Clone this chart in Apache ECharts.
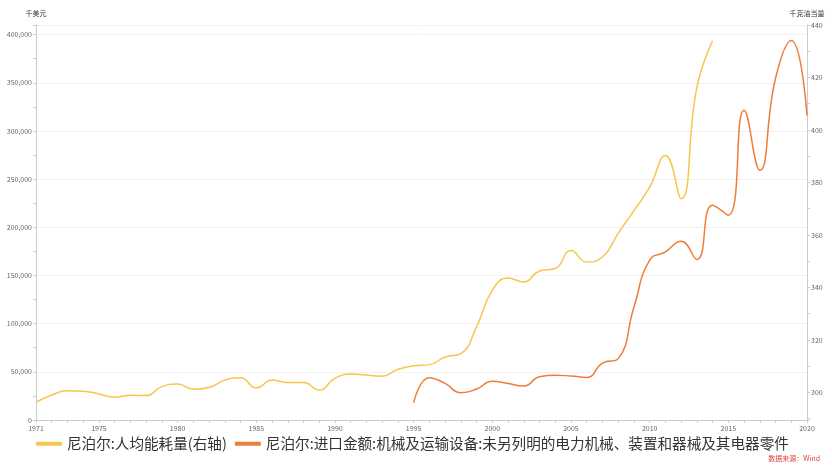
<!DOCTYPE html>
<html>
<head>
<meta charset="utf-8">
<script src="https://cdn.jsdelivr.net/npm/echarts@6/dist/echarts.min.js"></script>
<style>
  html, body { margin: 0; padding: 0; background: #fff; }
  #chart { width: 832px; height: 466px; }
</style>
</head>
<body>
<div id="chart"></div>
<script>
// 人均能耗量 (右轴, 千克油当量) 1971-2014
const energyYears = [1971, 1972, 1973, 1974, 1975, 1976, 1977, 1978, 1979, 1980,
  1981, 1982, 1983, 1984, 1985, 1986, 1987, 1988, 1989, 1990,
  1991, 1992, 1993, 1994, 1995, 1996, 1997, 1998, 1999, 2000,
  2001, 2002, 2003, 2004, 2005, 2006, 2007, 2008, 2009, 2010,
  2011, 2012, 2013, 2014];
const energyValues = [296.2, 299.0, 300.6, 300.5, 299.4, 298.2, 298.9, 298.8, 302.2, 303.2,
  301.2, 301.9, 304.7, 305.6, 301.7, 304.7, 303.8, 303.8, 300.9, 305.4,
  307.0, 306.6, 306.2, 308.8, 310.2, 310.6, 313.5, 314.8, 325.0, 338.9,
  343.6, 342.1, 346.3, 347.2, 354.1, 349.7, 351.6, 360.6, 369.3, 378.2,
  390.3, 373.8, 416.2, 434.0];

// 进口金额 (左轴, 千美元) 1995-2020
const importYears = [1995, 1996, 1997, 1998, 1999, 2000, 2001, 2002, 2003, 2004,
  2005, 2006, 2007, 2008, 2009, 2010, 2011, 2012, 2013, 2014,
  2015, 2016, 2017, 2018, 2019, 2020];
const importValues = [17900, 43900, 38000, 28300, 32100, 40200, 37800, 35200, 45000, 46500,
  45600, 44200, 59000, 63700, 117000, 165900, 174500, 185600, 166600, 223000,
  212600, 321500, 259200, 354700, 394000, 316000];

const seriesNames = ['尼泊尔:人均能耗量(右轴)', '尼泊尔:进口金额:机械及运输设备:未另列明的电力机械、装置和器械及其电器零件'];
const seriesColors = ['#F7C64C', '#EE7D3A'];

const chart = echarts.init(document.getElementById('chart'));
const font = 'Noto Sans CJK SC';

chart.setOption({
  animation: false,
  textStyle: { fontFamily: font },
  grid: { left: 36, right: 25, top: 25, bottom: 46, containLabel: false },
  legend: {
    data: seriesNames,
    left: 31,
    bottom: 10,
    width: 795,
    icon: 'roundRect',
    itemWidth: 26,
    itemHeight: 4,
    itemGap: 8,
    textStyle: { fontSize: 14.6, color: '#333', fontFamily: font }
  },
  graphic: [{
    type: 'text',
    right: 12,
    bottom: 4,
    style: { text: '数据来源：Wind', fill: '#E0403A', fontSize: 7, fontFamily: font }
  }],
  xAxis: {
    type: 'value',
    min: 1971,
    max: 2020,
    interval: 1,
    axisLine: { lineStyle: { color: '#ccc' } },
    axisTick: { lineStyle: { color: '#ccc' }, length: 3 },
    splitLine: { show: false },
    axisLabel: {
      fontSize: 7,
      color: '#666',
      margin: 5,
      formatter: v => (v % 5 === 0 || v === 1971 || v === 2020) ? String(v) : ''
    }
  },
  yAxis: [{
    type: 'value',
    name: '千美元',
    nameGap: 8,
    nameTextStyle: { fontSize: 7, color: '#333', align: 'center' },
    min: 0,
    max: 410000,
    interval: 50000,
    axisLine: { show: true, lineStyle: { color: '#ccc' } },
    axisTick: { show: true, lineStyle: { color: '#ccc' }, length: 3 },
    minorTick: { show: true, splitNumber: 2, length: 3, lineStyle: { color: '#ccc' } },
    splitLine: { show: true, lineStyle: { color: '#f2f2f2' } },
    axisLabel: {
      fontSize: 7,
      color: '#666',
      margin: 4,
      showMaxLabel: false,
      formatter: v => v.toLocaleString('en-US')
    }
  }, {
    type: 'value',
    name: '千克油当量',
    nameGap: 8,
    nameTextStyle: { fontSize: 7, color: '#333', align: 'center' },
    min: 289.5,
    max: 440,
    splitNumber: 8,
    axisLine: { show: true, lineStyle: { color: '#ccc' } },
    axisTick: { show: true, lineStyle: { color: '#ccc' }, length: 3 },
    minorTick: { show: true, splitNumber: 2, length: 3, lineStyle: { color: '#ccc' } },
    splitLine: { show: false },
    axisLabel: {
      fontSize: 7,
      color: '#666',
      margin: 4,
      showMinLabel: false,
      formatter: v => (v % 20 === 0) ? String(v) : ''
    }
  }],
  series: [{
    name: seriesNames[0],
    type: 'line',
    yAxisIndex: 1,
    smooth: true,
    showSymbol: false,
    color: seriesColors[0],
    lineStyle: { width: 1.5, color: seriesColors[0] },
    data: energyYears.map((y, i) => [y, energyValues[i]])
  }, {
    name: seriesNames[1],
    type: 'line',
    yAxisIndex: 0,
    smooth: true,
    showSymbol: false,
    color: seriesColors[1],
    lineStyle: { width: 1.5, color: seriesColors[1] },
    data: importYears.map((y, i) => [y, importValues[i]])
  }]
});
</script>
</body>
</html>
